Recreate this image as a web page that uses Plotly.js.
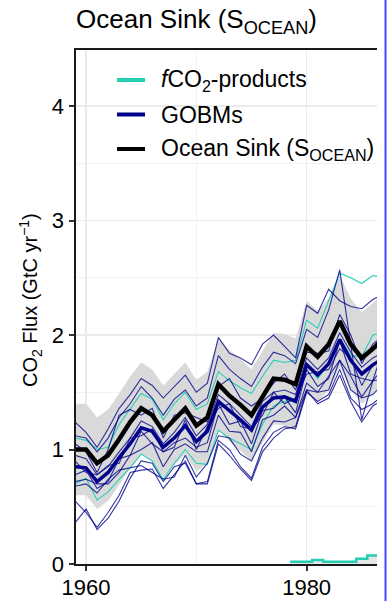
<!DOCTYPE html>
<html>
<head>
<meta charset="utf-8">
<script src="https://cdn.plot.ly/plotly-3.0.1.min.js"></script>
<style>html,body{margin:0;padding:0;background:#fff;}#chart{width:388px;height:601px;}</style>
</head>
<body>
<div id="chart"></div>
<script>
// ---- data ----
const years = [1959,1960,1961,1962,1963,1964,1965,1966,1967,1968,1969,1970,1971,1972,1973,1974,1975,1976,1977,1978,1979,1980,1981,1982,1983,1984,1985,1986,1987];

const oceanSink = [1.00,1.00,0.88,0.95,1.09,1.24,1.36,1.30,1.16,1.26,1.36,1.21,1.28,1.57,1.47,1.39,1.30,1.46,1.62,1.61,1.57,1.90,1.81,1.92,2.12,1.92,1.80,1.88,1.97];
const sinkUncertainty = 0.4;

const gobmMean = [0.85,0.84,0.72,0.80,0.93,1.05,1.19,1.16,1.02,1.10,1.21,1.07,1.16,1.42,1.34,1.26,1.17,1.37,1.45,1.46,1.42,1.74,1.65,1.75,1.96,1.78,1.66,1.74,1.80];

const gobm1  = [1.24,1.15,1.02,1.18,1.36,1.48,1.62,1.56,1.45,1.55,1.65,1.50,1.58,1.98,1.84,1.80,1.74,1.92,2.00,1.90,1.80,2.26,2.19,2.40,2.30,2.25,2.23,2.31,2.36];
const gobm2  = [1.12,1.10,0.98,1.10,1.28,1.40,1.55,1.45,1.30,1.44,1.52,1.38,1.45,1.82,1.70,1.62,1.55,1.72,1.85,1.82,1.75,2.05,1.98,2.22,2.57,1.90,1.26,1.60,1.90];
const gobm3  = [1.05,0.98,0.80,1.00,1.30,1.35,1.30,1.36,1.10,1.30,1.32,1.28,1.24,1.55,1.62,1.45,1.38,1.45,1.58,1.66,1.52,1.85,1.84,1.86,2.18,2.00,1.75,1.92,2.00];
const gobm4  = [0.95,0.92,0.78,0.85,0.98,1.10,1.25,1.20,1.05,1.15,1.28,1.12,1.22,1.48,1.40,1.30,1.20,1.42,1.50,1.52,1.48,1.80,1.70,1.80,2.02,1.85,1.72,1.80,1.85];
const gobm5  = [0.90,0.80,0.78,0.86,0.88,1.10,1.12,1.18,0.98,1.02,1.26,1.00,1.20,1.36,1.40,1.20,1.18,1.30,1.50,1.40,1.45,1.66,1.68,1.70,1.88,1.80,1.56,1.74,1.78];
const gobm6  = [0.78,0.82,0.66,0.72,0.92,0.95,1.16,1.05,0.98,1.06,1.10,1.02,1.06,1.40,1.22,1.25,1.05,1.34,1.36,1.46,1.32,1.70,1.55,1.62,1.95,1.66,1.62,1.60,1.72];
const gobm7  = [0.72,0.74,0.70,0.70,0.80,0.95,1.00,1.06,0.85,1.00,1.05,0.98,0.98,1.30,1.16,1.15,0.98,1.26,1.30,1.38,1.28,1.58,1.50,1.64,1.78,1.64,1.46,1.60,1.62];
const gobm8  = [0.68,0.70,0.62,0.74,0.82,0.84,0.86,0.80,0.74,0.76,0.95,0.76,0.88,1.12,1.10,0.96,0.90,1.10,1.25,1.24,1.28,1.52,1.50,1.52,1.78,1.52,1.45,1.48,1.58];
const gobm9  = [0.55,0.45,0.32,0.45,0.60,0.80,0.82,0.83,0.66,0.78,0.90,0.70,0.72,1.08,1.00,0.85,0.75,1.02,1.15,1.20,1.18,1.50,1.42,1.48,1.70,1.45,1.35,1.40,1.48];
const gobm10 = [0.36,0.48,0.30,0.40,0.55,0.75,0.90,0.88,0.72,0.85,0.88,0.70,0.70,1.05,0.95,0.83,0.73,0.98,1.10,1.18,1.20,1.52,1.40,1.45,1.65,1.42,1.24,1.38,1.44];
const gobmModels = [gobm1,gobm2,gobm3,gobm4,gobm5,gobm6,gobm7,gobm8,gobm9,gobm10];

const fco2A = [1.10,1.08,1.00,1.02,1.22,1.36,1.49,1.44,1.26,1.40,1.50,1.35,1.40,1.68,1.60,1.54,1.49,1.64,1.78,1.76,1.78,2.13,2.06,2.30,2.54,2.50,2.45,2.52,2.50];
const fco2B = [0.70,0.75,0.56,0.63,0.74,0.84,0.96,0.90,0.74,0.88,1.00,0.88,0.87,1.17,1.10,1.05,1.00,1.22,1.38,1.42,1.44,1.75,1.62,1.75,1.97,1.82,1.81,2.00,2.02];
const fco2Products = [fco2A, fco2B];

const spreadYears  = [1979,1980,1981,1982,1983,1984,1985,1986,1987];
const spreadValues = [0.02,0.02,0.035,0.02,0.02,0.02,0.045,0.075,0.075];

const legendLabels = ['<i>f</i>CO<sub>2</sub>-products','GOBMs','Ocean Sink (S<sub>OCEAN</sub>)'];
const titleText = 'Ocean Sink (S<sub>OCEAN</sub>)';
const yTitleText = 'CO<sub>2</sub> Flux (GtC yr<sup>−1</sup>)';

// ---- styles ----
const TEAL = 'rgb(38,206,180)';
const NAVY = '#00008b';
const FONT = 'Liberation Sans, Arial, sans-serif';
const legendColors = [TEAL, NAVY, '#000'];

// plot-area geometry (px) used to place the hand-drawn legend
const PL = 76, PW = 301, PB = 564, PH = 514;
const px2x = p => (p - PL) / PW;
const px2y = p => (PB - p) / PH;

const traces = [];
// uncertainty band
traces.push({x: years, y: oceanSink.map(v => v - sinkUncertainty), mode:'lines', line:{width:0}, hoverinfo:'skip', showlegend:false});
traces.push({x: years, y: oceanSink.map(v => v + sinkUncertainty), mode:'lines', line:{width:0}, fill:'tonexty', fillcolor:'#d9d9d9', hoverinfo:'skip', showlegend:false});

// spread bars at bottom (step)
const stepX = [], stepY = [];
spreadYears.forEach((yr,i) => { stepX.push(yr-0.5); stepY.push(spreadValues[i]); });
stepX.push(spreadYears[spreadYears.length-1]+0.5); stepY.push(spreadValues[spreadValues.length-1]);
traces.push({x: stepX, y: stepY, mode:'lines', line:{shape:'hv', color:TEAL, width:2.5}, fill:'tozeroy', fillcolor:'#e6e6e6', showlegend:false});

// fCO2 products
fco2Products.forEach(s => traces.push({x: years, y: s, mode:'lines', line:{color:TEAL, width:1.1}, showlegend:false}));
// GOBMs
gobmModels.forEach(s => traces.push({x: years, y: s, mode:'lines', line:{color:'rgba(0,0,139,0.8)', width:1.1}, showlegend:false}));
// GOBM mean
traces.push({x: years, y: gobmMean, mode:'lines', line:{color:NAVY, width:3.5}, showlegend:false});
// Ocean sink
traces.push({x: years, y: oceanSink, mode:'lines', line:{color:'#000', width:4.5}, showlegend:false});

// hand-drawn legend (inside panel, top-left)
const legendRowsPx = [80, 114.5, 149];
const legendShapes = legendRowsPx.map((r,i) => ({type:'line', xref:'paper', yref:'paper',
  x0:px2x(117), x1:px2x(145), y0:px2y(r), y1:px2y(r), line:{color:legendColors[i], width:4}}));
const legendAnns = legendRowsPx.map((r,i) => ({text:legendLabels[i], xref:'paper', yref:'paper',
  x:px2x(159), y:px2y(r), xanchor:'left', yanchor:'middle', showarrow:false,
  font:{family:FONT, size:23, color:'#000'}}));

const layout = {
  width: 388, height: 601,
  margin: {l:76, r:11, t:50, b:37},
  paper_bgcolor:'#fff', plot_bgcolor:'#fff',
  font: {family: FONT, size: 21, color:'#1a1a1a'},
  title: {text: titleText, font:{family:FONT, size:26, color:'#000'}, xref:'paper', x:0, xanchor:'left', yref:'container', y:1-19/601, yanchor:'middle'},
  showlegend: false,
  xaxis: {range:[1959.09, 1986.38], tickmode:'array', tickvals:[1960,1980,2000], ticktext:['1960','1980','2000'],
          showgrid:true, gridcolor:'#ebebeb', gridwidth:1.6, zeroline:false,
          minor:{tickmode:'array', tickvals:[1970,1990], showgrid:true, gridcolor:'#f2f2f2', gridwidth:1, ticklen:0},
          showline:true, linecolor:'#1a1a1a', linewidth:2.2, mirror:true, ticks:'outside', ticklen:5, tickwidth:2, tickcolor:'#333',
          ticklabelstandoff:-3,
          tickfont:{size:22, color:'#000'}},
  yaxis: {range:[0, 4.49], tickmode:'array', tickvals:[0,1,2,3,4], ticktext:['0','1','2','3','4'],
          showgrid:true, gridcolor:'#ebebeb', gridwidth:1.6, zeroline:false,
          minor:{tickmode:'array', tickvals:[0.5,1.5,2.5,3.5], showgrid:true, gridcolor:'#f2f2f2', gridwidth:1, ticklen:0},
          showline:true, linecolor:'#1a1a1a', linewidth:2.5, ticks:'outside', ticklen:5, tickwidth:2, tickcolor:'#333',
          tickfont:{size:22, color:'#000'}},
  annotations: [{text: yTitleText, xref:'paper', yref:'paper', x:px2x(30), y:px2y(300), textangle:-90, showarrow:false,
                 xanchor:'center', yanchor:'middle', font:{family:FONT, size:20, color:'#000'}}].concat(legendAnns),
  shapes: [{type:'line', xref:'paper', yref:'paper', x0:px2x(385.5), x1:px2x(385.5), y0:px2y(601), y1:px2y(0), line:{color:'rgb(70,70,250)', width:2}}].concat(legendShapes)
};

Plotly.newPlot('chart', traces, layout, {displayModeBar:false, staticPlot:true});
</script>
</body>
</html>
